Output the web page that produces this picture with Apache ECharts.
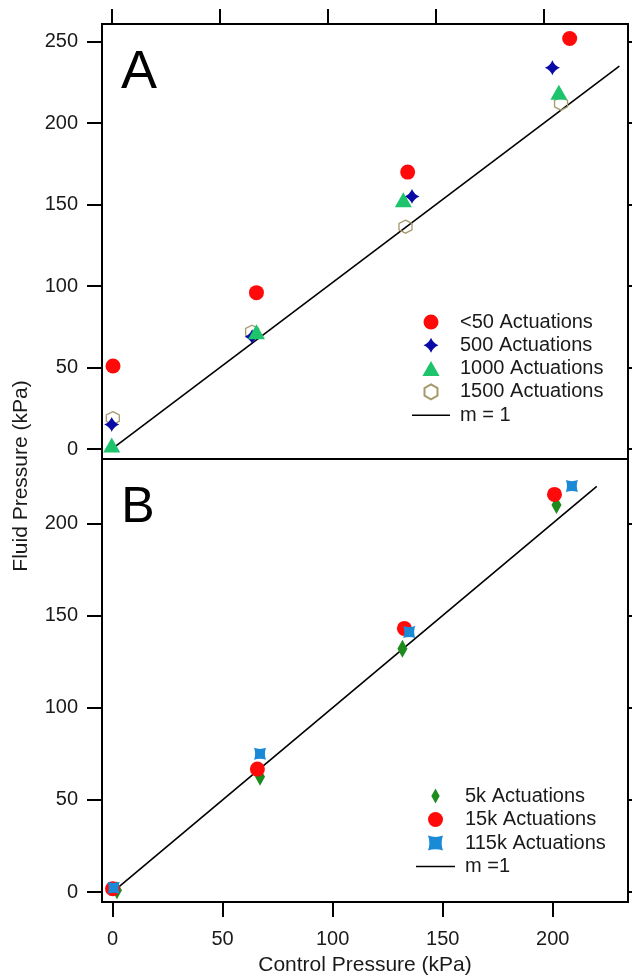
<!DOCTYPE html>
<html><head><meta charset="utf-8">
<script src="https://cdn.jsdelivr.net/npm/echarts@6/dist/echarts.min.js"></script>
<style>html,body{margin:0;padding:0;background:#fff}#c{width:632px;height:977px}</style>
</head><body><div id="c"></div><script>
// ---- Panel A data ----
const namesA = ['<50 Actuations', '500 Actuations', '1000 Actuations', '1500 Actuations'];
const ctrlA_lt50 = [0.6, 67, 137, 212];
const fluidA_lt50 = [51, 96, 170, 252];
const ctrlA_500 = [0, 65, 139, 204];
const fluidA_500 = [15, 69, 155, 234];
const ctrlA_1000 = [0, 67, 135, 207];
const fluidA_1000 = [2.5, 72, 153, 219];
const ctrlA_1500 = [0.5, 65, 136, 208];
const fluidA_1500 = [19, 72, 136.5, 212];
const lineA_x = [0, 235];
const lineA_y = [0, 235];
const lineA_name = 'm = 1';

// ---- Panel B data ----
const namesB = ['5k Actuations', '15k Actuations', '115k Actuations'];
const ctrlB_5k = [2, 67, 131.7, 201.7];
const fluidB_5k = [1, 62.5, 132, 210];
const ctrlB_15k = [0, 65.8, 132.6, 200.8];
const fluidB_15k = [1.8, 66.7, 143, 215.7];
const ctrlB_115k = [0.5, 67, 134.8, 208.7];
const fluidB_115k = [2.3, 75, 141, 220.2];
const lineB_x = [0, 220];
const lineB_y = [0, 220];
const lineB_name = 'm =1';

// ---- Ticks ----
const xTicks = [0, 50, 100, 150, 200];
const yTicksA = [0, 50, 100, 150, 200, 250];
const yTicksB = [0, 50, 100, 150, 200];

const xTitle = 'Control Pressure (kPa)';
const yTitle = 'Fluid Pressure (kPa)';

function zip(a, b) { return a.map((v, i) => [v, b[i]]); }

const FONT = 'Liberation Sans, Arial, sans-serif';
const star4 = 'path://M10,0 Q12.8,7.2 20,10 Q12.8,12.8 10,20 Q7.2,12.8 0,10 Q7.2,7.2 10,0 Z';
const hexagon = 'path://M8.66,0 L17.32,5 L17.32,15 L8.66,20 L0,15 L0,5 Z';
const bowtie = 'path://M0,0 Q6,2.2 12,0 Q9.8,6 12,12 Q6,9.8 0,12 Q2.2,6 0,0 Z';
const narrowDiamond = 'path://M5,0 L10,9 L5,18 L0,9 Z';
const triangleIcon = 'path://M8,0 L16,14 L0,14 Z';
const lineIcon = 'path://M0,0 L40,0 L40,1.7 L0,1.7 Z';

function axisBase(vals, len, pos) {
  return {
    type: 'value',
    position: pos,
    axisLine: { show: false, onZero: false },
    splitLine: { show: false },
    axisTick: { show: true, customValues: vals, length: len, lineStyle: { color: '#000', width: 2 } },
    axisLabel: { show: false }
  };
}
const labelStyle = { fontSize: 20, color: '#1a1a1a', fontFamily: FONT };

const chart = echarts.init(document.getElementById('c'), null, { renderer: 'canvas' });
chart.setOption({
  backgroundColor: '#fff',
  animation: false,
  textStyle: { fontFamily: FONT },
  grid: [
    { left: 102, right: 4, top: 24, height: 435, show: true, borderColor: '#000', borderWidth: 2, backgroundColor: 'transparent' },
    { left: 102, right: 4, top: 459, height: 443, show: true, borderColor: '#000', borderWidth: 2, backgroundColor: 'transparent' }
  ],
  xAxis: [
    Object.assign(axisBase(xTicks, 15, 'top'), { gridIndex: 0, min: -4.5, max: 239 }),
    Object.assign(axisBase(xTicks, 15, 'bottom'), {
      gridIndex: 1, min: -4.8, max: 234.2,
      axisLabel: Object.assign({ show: true, customValues: xTicks, margin: 27 }, labelStyle),
      name: xTitle, nameLocation: 'middle', nameGap: 53,
      nameTextStyle: { fontSize: 21, color: '#1a1a1a', fontFamily: FONT }
    })
  ],
  yAxis: [
    Object.assign(axisBase(yTicksA, 15, 'left'), {
      gridIndex: 0, min: -6.1, max: 260.9,
      axisLabel: Object.assign({ show: true, customValues: yTicksA, margin: 24 }, labelStyle)
    }),
    Object.assign(axisBase(yTicksA, 8, 'right'), { gridIndex: 0, min: -6.1, max: 260.9 }),
    Object.assign(axisBase(yTicksB, 15, 'left'), {
      gridIndex: 1, min: -5.4, max: 234.9,
      axisLabel: Object.assign({ show: true, customValues: yTicksB, margin: 24 }, labelStyle)
    }),
    Object.assign(axisBase(yTicksB, 8, 'right'), { gridIndex: 1, min: -5.4, max: 234.9 })
  ],
  legend: [
    {
      orient: 'vertical', left: 407, top: 307, itemWidth: 38, itemHeight: 15, itemGap: 3.3,
      data: [
        { name: namesA[0] },
        { name: namesA[1] },
        { name: namesA[2], icon: triangleIcon },
        { name: namesA[3] },
        { name: lineA_name, icon: lineIcon }
      ],
      textStyle: { fontSize: 20, lineHeight: 20, color: '#1a1a1a', fontFamily: FONT, padding: [0, 0, 0, 5] },
      selectedMode: false
    },
    {
      orient: 'vertical', left: 411, top: 781, itemWidth: 39, itemHeight: 15, itemGap: 3.5,
      data: [
        { name: namesB[0] },
        { name: namesB[1] },
        { name: namesB[2] },
        { name: lineB_name, icon: lineIcon }
      ],
      textStyle: { fontSize: 20, lineHeight: 20, color: '#1a1a1a', fontFamily: FONT, padding: [0, 0, 0, 5] },
      selectedMode: false
    }
  ],
  graphic: [
    { type: 'text', x: 21, y: 476, rotation: Math.PI / 2,
      style: { text: yTitle, font: '21px ' + FONT, fill: '#1a1a1a', textAlign: 'center', textVerticalAlign: 'middle' } },
    { type: 'text', x: 139, y: 73,
      style: { text: 'A', font: '54px ' + FONT, fill: '#000', textAlign: 'center', textVerticalAlign: 'middle' } },
    { type: 'text', x: 138, y: 508,
      style: { text: 'B', font: '50px ' + FONT, fill: '#000', textAlign: 'center', textVerticalAlign: 'middle' } }
  ],
  series: [
    { name: lineA_name, type: 'line', xAxisIndex: 0, yAxisIndex: 0, data: zip(lineA_x, lineA_y),
      symbol: 'none', lineStyle: { color: '#000', width: 1.6 }, itemStyle: { color: '#000' }, z: 1 },
    { name: namesA[3], type: 'scatter', xAxisIndex: 0, yAxisIndex: 0, data: zip(ctrlA_1500, fluidA_1500),
      symbol: hexagon, symbolSize: 13, itemStyle: { color: 'rgba(255,255,255,0)', borderColor: '#a6996b', borderWidth: 1.3, opacity: 1 } },
    { name: namesA[1], type: 'scatter', xAxisIndex: 0, yAxisIndex: 0, data: zip(ctrlA_500, fluidA_500),
      symbol: star4, symbolSize: 15, itemStyle: { color: '#0a0aa6', opacity: 1 } },
    { name: namesA[2], type: 'scatter', xAxisIndex: 0, yAxisIndex: 0, data: zip(ctrlA_1000, fluidA_1000),
      symbol: triangleIcon, symbolSize: [17, 15], itemStyle: { color: '#1dc46c', opacity: 1 } },
    { name: namesA[0], type: 'scatter', xAxisIndex: 0, yAxisIndex: 0, data: zip(ctrlA_lt50, fluidA_lt50),
      symbol: 'circle', symbolSize: 15, itemStyle: { color: '#ff0a0a', opacity: 1 } },

    { name: lineB_name, type: 'line', xAxisIndex: 1, yAxisIndex: 2, data: zip(lineB_x, lineB_y),
      symbol: 'none', lineStyle: { color: '#000', width: 1.6 }, itemStyle: { color: '#000' }, z: 1 },
    { name: namesB[0], type: 'scatter', xAxisIndex: 1, yAxisIndex: 2, data: zip(ctrlB_5k, fluidB_5k),
      symbol: narrowDiamond, symbolSize: [10, 18], itemStyle: { color: '#1d8c1d', opacity: 1 } },
    { name: namesB[1], type: 'scatter', xAxisIndex: 1, yAxisIndex: 2, data: zip(ctrlB_15k, fluidB_15k),
      symbol: 'circle', symbolSize: 15, itemStyle: { color: '#ff0a0a', opacity: 1 } },
    { name: namesB[2], type: 'scatter', xAxisIndex: 1, yAxisIndex: 2, data: zip(ctrlB_115k, fluidB_115k),
      symbol: bowtie, symbolSize: 12, itemStyle: { color: '#1b8ad6', opacity: 1 } }
  ]
});
</script></body></html>
